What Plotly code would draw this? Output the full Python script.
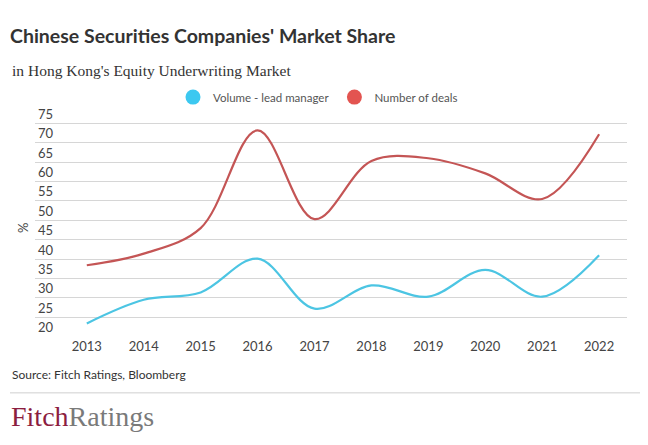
import plotly.graph_objects as go

years = [2013, 2014, 2015, 2016, 2017, 2018, 2019, 2020, 2021, 2022]
volume_lead = [23.4, 29.5, 31.4, 40.1, 27.2, 33.2, 30.3, 37.2, 30.3, 41.0]
num_deals = [38.4, 41.4, 48.0, 73.2, 50.3, 65.3, 66.0, 62.1, 55.5, 72.2]
y_ticks = [20, 25, 30, 35, 40, 45, 50, 55, 60, 65, 70, 75]

OFF = 8  # page body margin
W, H = 648 - OFF, 445 - OFF
PXU = (336.7 - 123.3) / 55.0  # pixels per unit
Y0, Y1 = 19.9, 80.0
L, R = 35 - OFF, 627 - OFF
B = 336.7 - OFF + (20 - Y0) * PXU
T = 336.7 - OFF - (Y1 - 20) * PXU

def px_x(px):
    return (px - OFF - L) / (R - L)

def px_y(py):
    return (B - (py - OFF)) / (B - T)

blue_line = "#4cc5e3"
red_line = "#c45555"
blue_leg = "#3cc8f0"
red_leg = "#e35450"

fig = go.Figure()
fig.add_trace(go.Scatter(x=years, y=volume_lead, mode="lines",
                         line=dict(color=blue_line, width=2.2, shape="spline", smoothing=1.0),
                         showlegend=False, name="Volume - lead manager"))
fig.add_trace(go.Scatter(x=years, y=num_deals, mode="lines",
                         line=dict(color=red_line, width=2.2, shape="spline", smoothing=1.0),
                         showlegend=False, name="Number of deals"))
fig.add_trace(go.Scatter(x=[None], y=[None], mode="markers",
                         marker=dict(color=blue_leg, size=15, symbol="circle"),
                         name="Volume - lead manager"))
fig.add_trace(go.Scatter(x=[None], y=[None], mode="markers",
                         marker=dict(color=red_leg, size=15, symbol="circle"),
                         name="Number of deals"))

fig.update_layout(
    width=W, height=H,
    margin=dict(l=L, r=W - R, t=T, b=H - B, pad=0),
    paper_bgcolor="white", plot_bgcolor="white",
    font=dict(family="Lato", color="#444", size=13),
    title=dict(text="<b>Chinese Securities Companies' Market Share</b>",
               x=2 / W, xanchor="left", xref="container",
               y=1 - 28 / H, yanchor="middle", yref="container",
               font=dict(family="Lato", size=19.5, color="#333")),
    legend=dict(orientation="h", x=px_x(318), xanchor="center",
                y=px_y(97), yanchor="middle",
                font=dict(family="Lato", size=11.5, color="#555"),
                itemwidth=30, bgcolor="rgba(0,0,0,0)"),
    xaxis=dict(range=[2012.09, 2022.49], tickmode="array", tickvals=years,
               ticktext=[str(y) for y in years], showgrid=False, zeroline=False,
               showline=False, ticks="", tickfont=dict(size=13, color="#444"),
               fixedrange=True),
    yaxis=dict(range=[Y0, Y1], tickmode="array", tickvals=y_ticks,
               showgrid=True, gridcolor="#d6d6d6", gridwidth=1, zeroline=False,
               showline=False, ticks="", ticklabelposition="inside top",
               tickfont=dict(size=13, color="#444"), fixedrange=True),
)

fig.add_annotation(text="in Hong Kong's Equity Underwriting Market",
                   xref="paper", yref="paper", x=px_x(10), y=px_y(70),
                   xanchor="left", yanchor="middle", showarrow=False,
                   font=dict(family="Liberation Serif", size=15.5, color="#333"))
fig.add_annotation(text="%", xref="paper", yref="paper", x=px_x(23), y=px_y(228),
                   xanchor="center", yanchor="middle", showarrow=False, textangle=-90,
                   font=dict(family="Lato", size=13, color="#444"))
fig.add_annotation(text="Source: Fitch Ratings, Bloomberg",
                   xref="paper", yref="paper", x=px_x(10), y=px_y(375),
                   xanchor="left", yanchor="middle", showarrow=False,
                   font=dict(family="Lato", size=12, color="#333"))
fig.add_annotation(text="<span style='color:#8c1d40'>Fitch</span><span style='color:#7a7a7a'>Ratings</span>",
                   xref="paper", yref="paper", x=px_x(9), y=px_y(417),
                   xanchor="left", yanchor="middle", showarrow=False,
                   font=dict(family="Liberation Serif", size=28))
fig.add_shape(type="line", xref="paper", yref="paper",
              x0=px_x(10), x1=px_x(645), y0=px_y(393), y1=px_y(393),
              line=dict(color="#cfcfcf", width=1))

fig.write_html("out.html")
